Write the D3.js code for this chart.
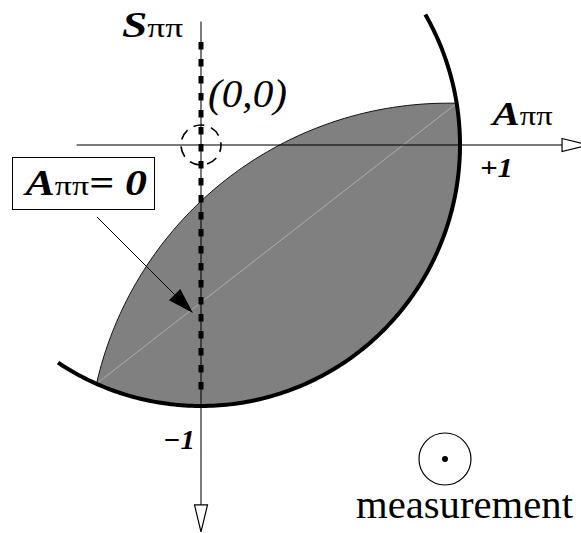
<!DOCTYPE html>
<html>
<head>
<meta charset="utf-8">
<script src="https://cdn.jsdelivr.net/npm/d3@7"></script>
<style>
  html, body { margin: 0; padding: 0; background: #fff; }
  svg { display: block; }
</style>
</head>
<body>
<svg id="chart" width="581" height="533"></svg>
<script>
// ---- data (A_pipi, S_pipi coordinates) ----
const axisDomain = [-1, 1];
const hAxisExtent = [-0.48, 1.394];      // A range of horizontal axis
const vAxisExtent = [0.473, -1.379];     // S range of vertical axis
const boundaryArcDeg = [30, -123.5];     // thick unit-circle arc (degrees)
const lensCornerDeg = [9.2, -113.8];     // lens corners on the unit circle
const lensInnerPoint = [0, -0.215];      // point where lens inner arc crosses A=0
const dashedLineS = [0.395, -0.958];     // A=0 dashed line
const originPoint = [0, 0];
const tickLabels = [{ A: 1, text: "+1" }, { S: -1, text: "\u22121" }];
const measurementPoint = [0.942, -1.203];

const FONT = "'Liberation Serif', 'Times New Roman', serif";
const svg = d3.select("#chart");
const cx = 201, cy = 145, rx = 259, ry = 261;
const x = d3.scaleLinear().domain(axisDomain).range([cx - rx, cx + rx]);
const y = d3.scaleLinear().domain(axisDomain).range([cy + ry, cy - ry]);
const rad = d => d * Math.PI / 180;
const onCircle = deg => [Math.cos(rad(deg)), Math.sin(rad(deg))];
const line = d3.line().x(d => x(d[0])).y(d => y(d[1]));
const pline = d3.line();

// ---- lens region ----
const P1 = onCircle(lensCornerDeg[1]);
const P3 = onCircle(lensCornerDeg[0]);
const q1 = [x(P1[0]), y(P1[1])], q2 = [x(lensInnerPoint[0]), y(lensInnerPoint[1])], q3 = [x(P3[0]), y(P3[1])];
function circum(a, b, c) {
  const d = 2 * (a[0] * (b[1] - c[1]) + b[0] * (c[1] - a[1]) + c[0] * (a[1] - b[1]));
  const a2 = a[0] * a[0] + a[1] * a[1], b2 = b[0] * b[0] + b[1] * b[1], c2 = c[0] * c[0] + c[1] * c[1];
  const ux = (a2 * (b[1] - c[1]) + b2 * (c[1] - a[1]) + c2 * (a[1] - b[1])) / d;
  const uy = (a2 * (c[0] - b[0]) + b2 * (a[0] - c[0]) + c2 * (b[0] - a[0])) / d;
  return [ux, uy, Math.hypot(a[0] - ux, a[1] - uy)];
}
const [ux, uy, ur] = circum(q1, q2, q3);
const t1 = Math.atan2(q1[1] - uy, q1[0] - ux), t3 = Math.atan2(q3[1] - uy, q3[0] - ux);
const innerPts = d3.range(0, 1.0001, 0.01).map(f => {
  const t = t1 + (t3 - t1) * f;
  return [ux + ur * Math.cos(t), uy + ur * Math.sin(t)];
});
const outerPts = d3.range(0, 1.0001, 0.01).map(f => {
  const deg = lensCornerDeg[0] + (lensCornerDeg[1] - lensCornerDeg[0]) * f;
  const p = onCircle(deg);
  return [x(p[0]), y(p[1])];
});
svg.append("path")
  .attr("d", pline(innerPts.concat(outerPts)) + "Z")
  .attr("fill", "#808080")
  .attr("stroke", "#000").attr("stroke-width", 0.9);

// chord
svg.append("path").attr("d", line([P1, P3]))
  .attr("stroke", "#b8b8b8").attr("stroke-width", 0.8).attr("fill", "none");

// ---- axes ----
const axisG = svg.append("g").attr("stroke", "#000").attr("stroke-opacity", 0.52).attr("stroke-width", 2);
axisG.append("line").attr("x1", x(hAxisExtent[0])).attr("x2", x(hAxisExtent[1]))
  .attr("y1", y(0)).attr("y2", y(0));
axisG.append("line").attr("x1", x(0)).attr("x2", x(0))
  .attr("y1", y(vAxisExtent[0])).attr("y2", y(vAxisExtent[1]));
const hx = x(hAxisExtent[1]), vy = y(vAxisExtent[1]);
svg.append("path").attr("d", pline([[hx, y(0) - 6.5], [hx + 27, y(0)], [hx, y(0) + 6.5]]) + "Z")
  .attr("fill", "#fff").attr("stroke", "#000").attr("stroke-width", 1.2);
svg.append("path").attr("d", pline([[x(0) - 6.5, vy], [x(0), vy + 27], [x(0) + 6.5, vy]]) + "Z")
  .attr("fill", "#fff").attr("stroke", "#000").attr("stroke-width", 1.2);

// ---- dashed A=0 line ----
svg.append("line").attr("x1", x(0)).attr("x2", x(0))
  .attr("y1", y(dashedLineS[0])).attr("y2", y(dashedLineS[1]))
  .attr("stroke", "#000").attr("stroke-width", 5).attr("stroke-dasharray", "7.5,9.5");

// ---- thick unit circle arc ----
const arcPts = d3.range(0, 1.0001, 0.005).map(f => onCircle(boundaryArcDeg[0] + (boundaryArcDeg[1] - boundaryArcDeg[0]) * f));
svg.append("path").attr("d", line(arcPts)).attr("fill", "none")
  .attr("stroke", "#000").attr("stroke-width", 4);

// ---- dashed circle at origin ----
svg.append("circle").attr("cx", x(originPoint[0])).attr("cy", y(originPoint[1])).attr("r", 20)
  .attr("fill", "none").attr("stroke", "#000").attr("stroke-width", 1.6).attr("stroke-dasharray", "11,7")
  .attr("stroke-dashoffset", 4);

// ---- labels: stretched horizontally to the reference widths ----
function label(left, baseline, width, parts, anchorEnd) {
  const g = svg.append("g");
  const t = g.append("text").attr("x", 0).attr("y", 0).attr("font-family", FONT);
  parts.forEach(p => {
    t.append("tspan").text(p.t)
      .attr("font-size", p.s).attr("font-weight", p.b ? "bold" : "normal")
      .attr("font-style", p.i ? "italic" : "normal");
  });
  const bb = t.node().getBBox();
  const sx = width / bb.width;
  g.attr("transform", `translate(${left - bb.x * sx},${baseline}) scale(${sx},1)`);
  return g;
}
label(122, 37, 61, [{ t: "S", s: 36, b: 1, i: 1 }, { t: "\u03c0\u03c0", s: 28 }]);
label(490, 125, 63, [{ t: "A", s: 34, b: 1, i: 1 }, { t: "\u03c0\u03c0", s: 27 }]);
label(208, 107, 79, [{ t: "(0,0)", s: 40, i: 1 }]);
label(x(tickLabels[0].A) + 20, 177, 33, [{ t: tickLabels[0].text, s: 28, b: 1, i: 1 }]);
label(x(0) - 38, y(tickLabels[1].S) + 43, 32, [{ t: tickLabels[1].text, s: 27, b: 1, i: 1 }]);

// box label
svg.append("rect").attr("x", 12.5).attr("y", 157.5).attr("width", 142).attr("height", 52)
  .attr("fill", "#fff").attr("stroke", "#000").attr("stroke-width", 1);
label(23, 195, 124, [{ t: "A", s: 35, b: 1, i: 1 }, { t: "\u03c0\u03c0", s: 27 }, { t: "= 0", s: 35, b: 1, i: 1 }]);

// arrow
const a0 = [97, 217], a1 = [193, 313];
const ang = Math.atan2(a1[1] - a0[1], a1[0] - a0[0]);
const L = 26, W = 8;
const base = [a1[0] - L * Math.cos(ang), a1[1] - L * Math.sin(ang)];
svg.append("line").attr("x1", a0[0]).attr("y1", a0[1]).attr("x2", base[0]).attr("y2", base[1])
  .attr("stroke", "#000").attr("stroke-width", 1);
svg.append("path").attr("d", pline([a1,
  [base[0] + W * Math.sin(ang), base[1] - W * Math.cos(ang)],
  [base[0] - W * Math.sin(ang), base[1] + W * Math.cos(ang)]]) + "Z").attr("fill", "#000");

// measurement symbol
svg.append("circle").attr("cx", x(measurementPoint[0])).attr("cy", y(measurementPoint[1])).attr("r", 26)
  .attr("fill", "none").attr("stroke", "#000").attr("stroke-width", 1.2);
svg.append("circle").attr("cx", x(measurementPoint[0])).attr("cy", y(measurementPoint[1])).attr("r", 3)
  .attr("fill", "#000");
label(356, 518, 217, [{ t: "measurement", s: 40 }]);
</script>
</body>
</html>
